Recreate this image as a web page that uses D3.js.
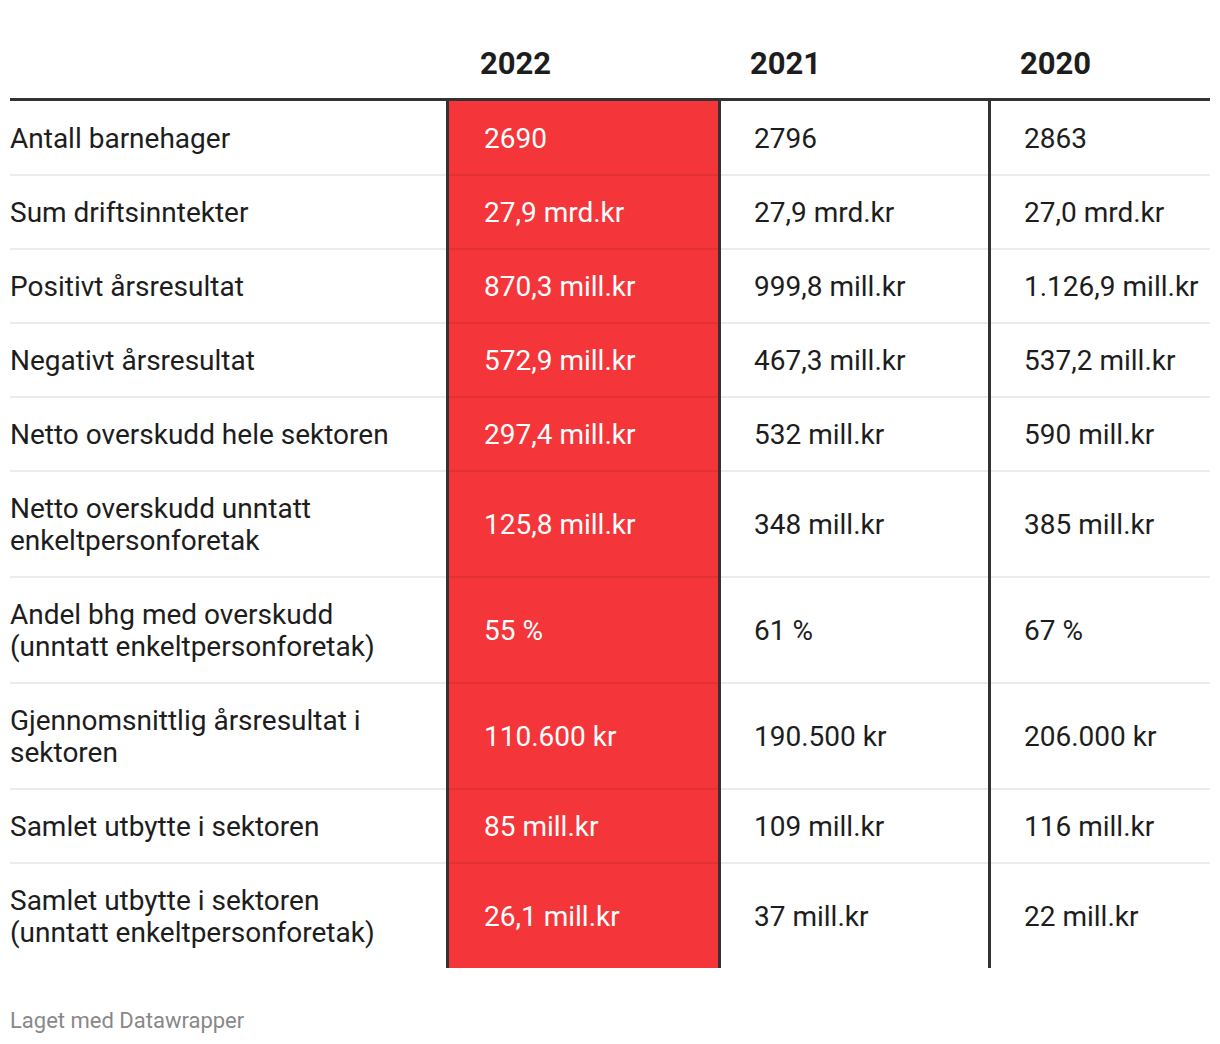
<!DOCTYPE html>
<html>
<head>
<meta charset="utf-8">
<script src="https://cdn.jsdelivr.net/npm/d3@7"></script>
<style>
  html, body { margin: 0; padding: 0; background: #fff; }
  svg { display: block; font-family: Roboto, "Noto Sans", sans-serif; }
</style>
</head>
<body>
<svg id="chart" width="1220" height="1044"></svg>
<script>
const years = ["2022", "2021", "2020"];
const rowLabels = [
  ["Antall barnehager"],
  ["Sum driftsinntekter"],
  ["Positivt årsresultat"],
  ["Negativt årsresultat"],
  ["Netto overskudd hele sektoren"],
  ["Netto overskudd unntatt", "enkeltpersonforetak"],
  ["Andel bhg med overskudd", "(unntatt enkeltpersonforetak)"],
  ["Gjennomsnittlig årsresultat i", "sektoren"],
  ["Samlet utbytte i sektoren"],
  ["Samlet utbytte i sektoren", "(unntatt enkeltpersonforetak)"]
];
const values2022 = ["2690", "27,9 mrd.kr", "870,3 mill.kr", "572,9 mill.kr", "297,4 mill.kr", "125,8 mill.kr", "55 %", "110.600 kr", "85 mill.kr", "26,1 mill.kr"];
const values2021 = ["2796", "27,9 mrd.kr", "999,8 mill.kr", "467,3 mill.kr", "532 mill.kr", "348 mill.kr", "61 %", "190.500 kr", "109 mill.kr", "37 mill.kr"];
const values2020 = ["2863", "27,0 mrd.kr", "1.126,9 mill.kr", "537,2 mill.kr", "590 mill.kr", "385 mill.kr", "67 %", "206.000 kr", "116 mill.kr", "22 mill.kr"];
const footer = "Laget med Datawrapper";

const svg = d3.select("#chart");
const left = 10, right = 1210;
const tableTop = 101;
const rowH1 = 74, rowH2 = 106;
const lineGap = 32;
const fontSize = 28;

// column scales
const colX = d3.scaleOrdinal().domain(years).range([449, 721, 991]);
const colEnd = d3.scaleOrdinal().domain(years).range([718, 988, right]);
const textX = d3.scaleOrdinal().domain(years).range([484, 754, 1024]);
const headX = d3.scaleOrdinal().domain(years).range([480, 750, 1020]);

// rows layout
const rows = rowLabels.map((lab, i) => ({
  label: lab,
  vals: [values2022[i], values2021[i], values2020[i]],
  h: lab.length > 1 ? rowH2 : rowH1
}));
let yAcc = tableTop;
rows.forEach(r => { r.y0 = yAcc; yAcc += r.h; r.y1 = yAcc; r.cy = (r.y0 + r.y1) / 2; });
const tableBottom = yAcc - 1;

// highlighted column fill
svg.append("rect")
  .attr("x", colX("2022")).attr("y", tableTop)
  .attr("width", colEnd("2022") - colX("2022"))
  .attr("height", tableBottom - tableTop)
  .attr("fill", "#f4363a");

// row separators
svg.append("g").selectAll("line")
  .data(rows.slice(0, -1))
  .join("line")
  .attr("x1", left).attr("x2", right)
  .attr("y1", d => d.y1).attr("y2", d => d.y1)
  .attr("stroke", "rgba(0,0,0,0.075)")
  .attr("stroke-width", 2);

// header
svg.append("g").selectAll("text")
  .data(years)
  .join("text")
  .attr("x", d => headX(d))
  .attr("y", 74)
  .attr("font-size", 31)
  .attr("font-weight", 700)
  .attr("fill", "#1d1d1d")
  .text(d => d);

// header rule
svg.append("rect")
  .attr("x", left).attr("y", 98)
  .attr("width", right - left).attr("height", 3)
  .attr("fill", "#333");

// vertical borders
svg.append("g").selectAll("rect")
  .data(years)
  .join("rect")
  .attr("x", d => colX(d) - 3)
  .attr("y", tableTop)
  .attr("width", 3)
  .attr("height", tableBottom - tableTop)
  .attr("fill", "#333");

// rows
const rowG = svg.append("g").selectAll("g").data(rows).join("g");
rowG.each(function(r) {
  const g = d3.select(this);
  const n = r.label.length;
  r.label.forEach((t, k) => {
    g.append("text")
      .attr("x", left)
      .attr("y", r.cy + (k - (n - 1) / 2) * lineGap)
      .attr("dy", "0.35em")
      .attr("font-size", fontSize)
      .attr("fill", "#1d1d1d")
      .text(t);
  });
  r.vals.forEach((v, j) => {
    g.append("text")
      .attr("x", textX(years[j]))
      .attr("y", r.cy)
      .attr("dy", "0.35em")
      .attr("font-size", fontSize)
      .attr("fill", j === 0 ? "#ffffff" : "#1d1d1d")
      .text(v);
  });
});

// footer
svg.append("text")
  .attr("x", left)
  .attr("y", 1028)
  .attr("font-size", 22)
  .attr("fill", "#888")
  .text(footer);
</script>
</body>
</html>
